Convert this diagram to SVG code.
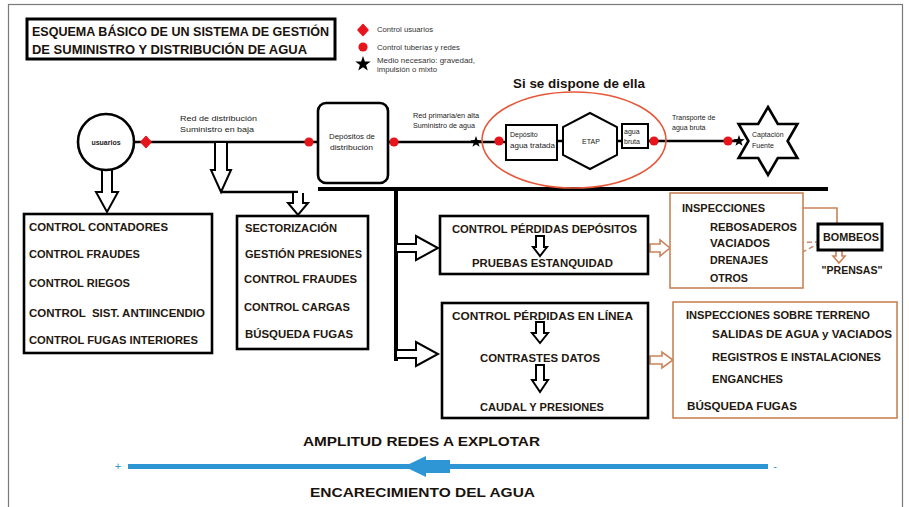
<svg xmlns="http://www.w3.org/2000/svg" width="909" height="507" viewBox="0 0 909 507">
<style>
.t{font-family:"Liberation Sans",Arial,sans-serif;font-weight:bold;font-size:11px;fill:#24180f}
.h{font-family:"Liberation Sans",Arial,sans-serif;font-weight:bold;font-size:12.5px;fill:#1a120c}
.s{font-family:"Liberation Sans",Arial,sans-serif;font-size:7px;fill:#222}
.lg{font-family:"Liberation Sans",Arial,sans-serif;font-size:6.5px;fill:#333}
.box{fill:#fff;stroke:#000;stroke-width:2.6}
.obox{fill:#fff;stroke:#c98458;stroke-width:1.6}
.ln{fill:none;stroke:#000;stroke-width:2.4}
.har{fill:#fff;stroke:#000;stroke-width:2;stroke-linejoin:miter}
.oar{fill:#fff;stroke:#c98458;stroke-width:1.6}
.blue{fill:#2f96d6}
</style>
<defs>
<path id="star5" d="M0,-6 L1.41,-1.94 L5.71,-1.85 L2.28,0.74 L3.53,4.85 L0,2.4 L-3.53,4.85 L-2.28,0.74 L-5.71,-1.85 L-1.41,-1.94 Z" fill="#000"/>
<path id="dia" d="M0,-5.5 L5,0 L0,5.5 L-5,0 Z" fill="#e8141c" stroke="#e8141c" stroke-width="1.5" stroke-linejoin="round"/>
<circle id="dot" r="4.6" fill="#e8141c"/>
</defs>
<rect x="8.5" y="4.5" width="894" height="520" fill="none" stroke="#7a7a7a" stroke-width="1.2"/>

<g id="title">
<rect x="27" y="19" width="308" height="40" fill="#fff" stroke="#000" stroke-width="3"/>
<text class="h" x="32" y="36" textLength="297" lengthAdjust="spacingAndGlyphs">ESQUEMA BÁSICO DE UN SISTEMA DE GESTIÓN</text>
<text class="h" x="32" y="54" textLength="275" lengthAdjust="spacingAndGlyphs">DE SUMINISTRO Y DISTRIBUCIÓN DE AGUA</text>
</g>

<g id="legend">
<use href="#dia" x="363" y="30"/>
<text class="lg" x="377" y="32" textLength="56" lengthAdjust="spacingAndGlyphs">Control usuarios</text>
<use href="#dot" x="363" y="47"/>
<text class="lg" x="377" y="50" textLength="83" lengthAdjust="spacingAndGlyphs">Control tuberías y redes</text>
<use href="#star5" transform="translate(363,64) scale(1.35)"/>
<text class="lg" x="377" y="63" textLength="98" lengthAdjust="spacingAndGlyphs">Medio necesario: gravedad,</text>
<text class="lg" x="377" y="72" textLength="60" lengthAdjust="spacingAndGlyphs">impulsión o mixto</text>
</g>

<g id="connectors">
<path class="ln" d="M134,142 H318 M388,142 H506 M557,141 H563 M617,141 H622 M648,141 H740"/>
<path d="M318,189 H828 M396,189 V361" fill="none" stroke="#000" stroke-width="4"/>
<path class="har" d="M102,170 V192 H96 L107,212 L118,192 H112 V170"/>
<path class="har" d="M215,143 V170 H211 L221,192 L231,170 H227 V143"/>
<path class="ln" stroke-width="2" d="M221,192 H298"/>
<path class="har" d="M293,193 V203 H288 L298,215 L308,203 H303 V193"/>
<path class="har" d="M397,244 H416 V236 L438,248 L416,260 V252 H397"/>
<path class="har" d="M397,350 H416 V342 L438,354 L416,366 V358 H397"/>
<path class="oar" d="M650,244 H660 V240 L670,248 L660,256 V252 H650 Z"/>
<path class="oar" d="M650,356 H662 V352 L673,360 L662,368 V364 H650 Z"/>
<path class="oar" d="M793,205 H783 V202 L773,208 L783,214 V211 H793 Z"/>
<path d="M793,208 H837 V224" fill="none" stroke="#c98458" stroke-width="1.6"/>
<path class="oar" d="M836,250 V256 H833 L839,263 L845,256 H842 V250 Z"/>
<path d="M775,243 L818,242 M752,278 L820,243" fill="none" stroke="#c98458" stroke-width="1.4" stroke-dasharray="5,3"/>
</g>

<g id="markers">
<use href="#dia" x="146" y="142"/>
<use href="#dot" x="309" y="142"/>
<use href="#dot" x="394" y="142"/>
<use href="#star5" x="476" y="142"/>
<use href="#dot" x="499" y="141"/>
<use href="#dot" x="654" y="141"/>
<use href="#dot" x="728" y="141"/>
</g>

<g id="labels">
<text class="s" x="180" y="121" textLength="77" lengthAdjust="spacingAndGlyphs">Red de distribución</text>
<text class="s" x="180" y="132" textLength="74" lengthAdjust="spacingAndGlyphs">Suministro en baja</text>
<text class="s" x="413" y="118" textLength="66" lengthAdjust="spacingAndGlyphs">Red primaria/en alta</text>
<text class="s" x="413" y="128" textLength="62" lengthAdjust="spacingAndGlyphs">Suministro de agua</text>
<text class="s" x="672" y="120">Transporte de</text>
<text class="s" x="672" y="130">agua bruta</text>
<text x="579" y="88" text-anchor="middle" style="font-family:'Liberation Sans',Arial,sans-serif;font-weight:bold;font-size:13px;fill:#1a120c" textLength="132" lengthAdjust="spacingAndGlyphs">Si se dispone de ella</text>
</g>

<g id="usuarios">
<circle cx="106" cy="142" r="28" fill="#fff" stroke="#000" stroke-width="2.6"/>
<text class="s" x="106" y="145" text-anchor="middle" font-size="6.5" font-weight="bold">usuarios</text>
</g>

<g id="depositos-distribucion">
<rect class="box" x="318" y="103" width="70" height="80" rx="8"/>
<text class="s" x="329" y="139" textLength="46" lengthAdjust="spacingAndGlyphs">Depósitos de</text>
<text class="s" x="330" y="150" textLength="43" lengthAdjust="spacingAndGlyphs">distribución</text>
</g>

<g id="ellipse-etap">
<ellipse cx="574" cy="140" rx="92" ry="48" fill="none" stroke="#e6583a" stroke-width="1.6"/>
</g>

<g id="deposito-tratada">
<rect x="506" y="125" width="51" height="35" fill="#fff" stroke="#000" stroke-width="2"/>
<text class="s" x="510" y="137" font-size="6.5">Depósito</text>
<text class="s" x="510" y="148" font-size="6.5" textLength="45" lengthAdjust="spacingAndGlyphs">agua tratada</text>
</g>

<g id="etap">
<path d="M590,113 L617,127 V155 L590,169 L563,155 V127 Z" fill="#fff" stroke="#000" stroke-width="2"/>
<text class="s" x="591" y="144" text-anchor="middle" font-size="6.5">ETAP</text>
</g>

<g id="agua-bruta">
<rect x="622" y="124" width="26" height="24" fill="#fff" stroke="#000" stroke-width="2"/>
<text class="s" x="624" y="134" font-size="6.5">agua</text>
<text class="s" x="624" y="144" font-size="6.5">bruta</text>
</g>

<g id="captacion">
<path d="M768,107 L777.8,124 L797.4,124 L787.6,141 L797.4,158 L777.8,158 L768,175 L758.2,158 L738.6,158 L748.4,141 L738.6,124 L758.2,124 Z" fill="#fff" stroke="#000" stroke-width="2.6" stroke-linejoin="miter"/>
<text class="s" x="752" y="137" font-size="6.5">Captación</text>
<text class="s" x="752" y="148" font-size="6.5">Fuente</text>
<use href="#star5" x="739" y="141"/>
</g>

<g id="control-usuarios">
<rect class="box" x="24" y="214" width="188" height="139"/>
<text class="t" x="29" y="231" textLength="139" lengthAdjust="spacingAndGlyphs">CONTROL CONTADORES</text>
<text class="t" x="29" y="258" textLength="111" lengthAdjust="spacingAndGlyphs">CONTROL FRAUDES</text>
<text class="t" x="29" y="287" textLength="101" lengthAdjust="spacingAndGlyphs">CONTROL RIEGOS</text>
<text class="t" x="29" y="317" textLength="176" lengthAdjust="spacingAndGlyphs" xml:space="preserve">CONTROL  SIST. ANTIINCENDIO</text>
<text class="t" x="29" y="344" textLength="169" lengthAdjust="spacingAndGlyphs">CONTROL FUGAS INTERIORES</text>
</g>

<g id="control-redes">
<rect class="box" x="237" y="216" width="131" height="133"/>
<text class="t" x="245" y="232" textLength="92" lengthAdjust="spacingAndGlyphs">SECTORIZACIÓN</text>
<text class="t" x="245" y="258" textLength="117" lengthAdjust="spacingAndGlyphs">GESTIÓN PRESIONES</text>
<text class="t" x="244" y="283" textLength="113" lengthAdjust="spacingAndGlyphs">CONTROL FRAUDES</text>
<text class="t" x="244" y="311" textLength="106" lengthAdjust="spacingAndGlyphs">CONTROL CARGAS</text>
<text class="t" x="245" y="338" textLength="108" lengthAdjust="spacingAndGlyphs">BÚSQUEDA FUGAS</text>
</g>

<g id="control-depositos">
<rect class="box" x="440" y="216" width="208" height="58"/>
<text class="t" x="452" y="233" textLength="185" lengthAdjust="spacingAndGlyphs">CONTROL PÉRDIDAS DEPÓSITOS</text>
<path class="har" stroke-width="1.6" d="M536,236 V247 H533 L540,256 L547,247 H544 V236 Z"/>
<text class="t" x="472" y="267" textLength="141" lengthAdjust="spacingAndGlyphs">PRUEBAS ESTANQUIDAD</text>
</g>

<g id="inspecciones">
<rect class="obox" x="670" y="193" width="133" height="95"/>
<text class="t" x="682" y="212" textLength="83" lengthAdjust="spacingAndGlyphs">INSPECCIONES</text>
<text class="t" x="710" y="231" textLength="87" lengthAdjust="spacingAndGlyphs">REBOSADEROS</text>
<text class="t" x="710" y="247" textLength="60" lengthAdjust="spacingAndGlyphs">VACIADOS</text>
<text class="t" x="710" y="264" textLength="58" lengthAdjust="spacingAndGlyphs">DRENAJES</text>
<text class="t" x="710" y="282" textLength="38" lengthAdjust="spacingAndGlyphs">OTROS</text>
</g>

<g id="bombeos">
<rect x="818" y="224" width="64" height="26" fill="#fff" stroke="#000" stroke-width="3"/>
<text class="t" x="851" y="241" text-anchor="middle" textLength="56" lengthAdjust="spacingAndGlyphs">BOMBEOS</text>
<text class="t" x="852" y="274" text-anchor="middle" textLength="61" lengthAdjust="spacingAndGlyphs">"PRENSAS"</text>
</g>

<g id="control-linea">
<rect class="box" x="442" y="303" width="206" height="115"/>
<text class="t" x="452" y="320" textLength="181" lengthAdjust="spacingAndGlyphs">CONTROL PÉRDIDAS EN LÍNEA</text>
<path class="har" stroke-width="1.6" d="M536,322 V333 H532 L540,343 L548,333 H544 V322 Z"/>
<text class="t" x="480" y="362" textLength="120" lengthAdjust="spacingAndGlyphs">CONTRASTES DATOS</text>
<path class="har" stroke-width="1.6" d="M536,365 V380 H532 L540,392 L548,380 H544 V365 Z"/>
<text class="t" x="480" y="411" textLength="124" lengthAdjust="spacingAndGlyphs">CAUDAL Y PRESIONES</text>
</g>

<g id="inspecciones-terreno">
<rect class="obox" x="673" y="302" width="224" height="116"/>
<text class="t" x="686" y="319" textLength="184" lengthAdjust="spacingAndGlyphs">INSPECCIONES SOBRE TERRENO</text>
<text class="t" x="712" y="338" textLength="180" lengthAdjust="spacingAndGlyphs">SALIDAS DE AGUA y VACIADOS</text>
<text class="t" x="712" y="361" textLength="169" lengthAdjust="spacingAndGlyphs">REGISTROS E INSTALACIONES</text>
<text class="t" x="712" y="383" textLength="71" lengthAdjust="spacingAndGlyphs">ENGANCHES</text>
<text class="t" x="687" y="410" textLength="110" lengthAdjust="spacingAndGlyphs">BÚSQUEDA FUGAS</text>
</g>

<g id="escala">
<text class="h" x="303" y="446" font-size="14" textLength="237" lengthAdjust="spacingAndGlyphs">AMPLITUD REDES A EXPLOTAR</text>
<rect class="blue" x="128" y="464" width="640" height="5"/>
<path class="blue" d="M404,466.5 L426,456 V460 H450 V473 H426 V477 Z"/>
<text x="118" y="470" text-anchor="middle" style="font-family:'Liberation Sans',Arial,sans-serif;font-size:11px;fill:#2f96d6">+</text>
<text x="775" y="470" text-anchor="middle" style="font-family:'Liberation Sans',Arial,sans-serif;font-size:11px;fill:#2f96d6">-</text>
<text class="h" x="310" y="497" font-size="14" textLength="225" lengthAdjust="spacingAndGlyphs">ENCARECIMIENTO DEL AGUA</text>
</g>
</svg>
